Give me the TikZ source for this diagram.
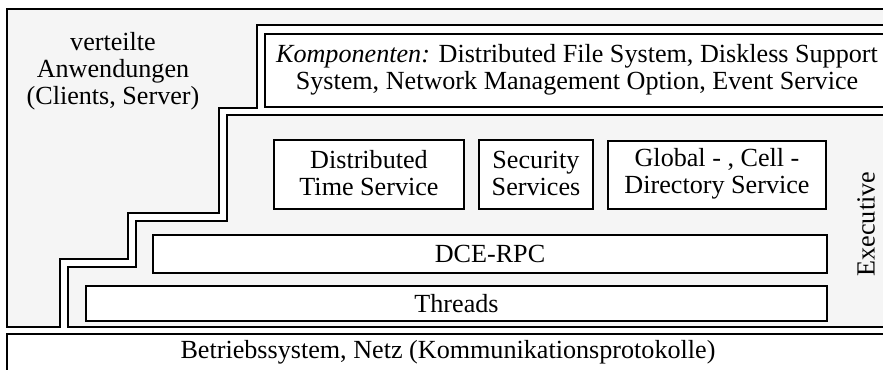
\documentclass[tikz,border=0pt]{standalone}
\usepackage{fontspec}
\setmainfont{Liberation Serif}
\definecolor{layergray}{RGB}{245,245,245}
\begin{document}
\begin{tikzpicture}[x=0.75pt,y=-0.75pt,
  frame/.style={line width=1.9pt,line join=miter},
  boxed/.style={draw,line width=1.9pt,fill=white},
  lbl/.style={inner sep=0pt,align=center,font=\fontsize{19.6}{20.3}\selectfont}]
\useasboundingbox (0,0) rectangle (883,369);
\clip (0,0) rectangle (883,369);
\fill[white] (0,0) rectangle (883,369);

% application layer (grey background of the outer frame)
\fill[layergray] (7,9) rectangle (905,327);
% white channel of the stepped double line
\fill[white] (60,327) -- (60,259) -- (128,259) -- (128,213) -- (219,213)
  -- (219,108) -- (257,108) -- (257,25) -- (905,25) -- (905,327) -- cycle;
% executive area
\fill[layergray] (68,327) -- (68,267) -- (136,267) -- (136,221) -- (227,221)
  -- (227,115) -- (905,115) -- (905,327) -- cycle;

% outer frame together with the outer stepped line
\draw[frame] (905,9) -- (7,9) -- (7,327) -- (60,327) -- (60,259) -- (128,259)
  -- (128,213) -- (219,213) -- (219,108) -- (257,108) -- (257,25) -- (905,25);
% inner stepped line around the executive
\draw[frame] (905,115) -- (227,115) -- (227,221) -- (136,221) -- (136,267)
  -- (68,267) -- (68,327) -- (905,327);

% components box
\draw[boxed] (265,34) rectangle (889,107);
% operating system box
\draw[boxed] (7,334) rectangle (889,400);

% executive services
\draw[boxed] (274,140) rectangle (464,209);
\draw[boxed] (479,140) rectangle (593,209);
\draw[boxed] (608,141) rectangle (826,209);
\draw[boxed] (153,235) rectangle (827,273);
\draw[boxed] (86,286) rectangle (827,321);

\node[lbl] (apps) at (113,71) {verteilte\\Anwendungen\\(Clients, Server)};
\node[lbl] (comp) at (577,70) {\textit{Komponenten:} Distributed File System, Diskless Support\\System, Network Management Option, Event Service};
\node[lbl] (dts) at (369,173.5) {Distributed\\Time Service};
\node[lbl] (sec) at (536,173.5) {Security\\Services};
\node[lbl] (dir) at (717,174) {Global - , Cell -\\Directory Service};
\node[lbl] (rpc) at (490,254) {DCE-RPC};
\node[lbl] (thr) at (456.5,303.5) {Threads};
\node[lbl,rotate=90] (exe) at (866,224) {Executive};
\node[lbl] (os) at (448,352) {Betriebssystem, Netz (Kommunikationsprotokolle)};
\end{tikzpicture}
\end{document}
